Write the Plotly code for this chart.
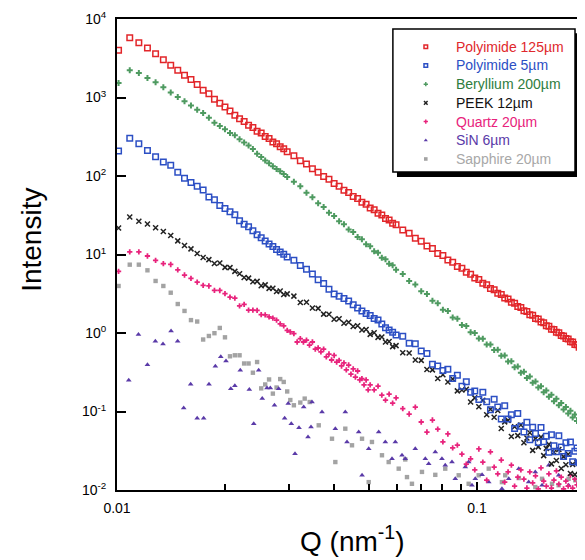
import plotly.graph_objects as go

# Q grid (nm^-1) shared by the four dense series
q = [0.0101, 0.01085, 0.0115, 0.01215, 0.0128, 0.01345, 0.0141, 0.01475, 0.0154, 0.01605,
     0.0167, 0.01735, 0.018, 0.01865, 0.0193, 0.01995, 0.0206, 0.02125, 0.0219, 0.02255,
     0.0232, 0.02385, 0.0245, 0.02515, 0.0258, 0.02645, 0.0271, 0.02775, 0.0284, 0.02905,
     0.0297,
     0.031, 0.0323, 0.0336, 0.0349, 0.0362, 0.0375, 0.0388, 0.0401, 0.0414, 0.0427,
     0.044, 0.0453, 0.0466, 0.0479, 0.0492, 0.0505, 0.0518, 0.0531, 0.0544, 0.0557,
     0.057, 0.0583, 0.0596,
     0.0622, 0.0648, 0.0674, 0.07, 0.0726, 0.0752, 0.0778, 0.0804, 0.083, 0.0856,
     0.0882, 0.0908, 0.0934, 0.096, 0.0986, 0.1012, 0.1038, 0.1064, 0.109, 0.1116,
     0.1142, 0.1168, 0.1194, 0.122, 0.1246, 0.1272, 0.1298, 0.1324, 0.135, 0.1376,
     0.1402, 0.1428, 0.1454, 0.148, 0.1506, 0.1532, 0.1558, 0.1584, 0.161, 0.1636,
     0.1662, 0.1688, 0.1714, 0.174, 0.1766, 0.1792, 0.1818, 0.1844, 0.187, 0.1896,
     0.1922, 0.1948, 0.1974, 0.2]

polyimide_125 = [3990, 5780, 4990, 4280, 3610, 3030, 2570, 2220, 1920, 1700,
                 1460, 1240, 1120, 950, 843, 757, 673, 593, 537, 495,
                 444, 415, 372, 352, 318, 300, 271, 258, 236, 223, 204,
                 181, 156, 142, 124, 112, 98.6, 91.0, 80.2, 74.3, 66.0,
                 61.5, 54.8, 51.6, 46.2, 43.6, 39.1, 37.2, 33.5, 31.9, 28.8,
                 27.6, 25.0, 24.0,
                 20.5, 18.7, 16.1, 14.8, 12.8, 11.9, 10.3, 9.68, 8.49, 7.99,
                 7.05, 6.67, 5.93, 5.62, 5.01, 4.79, 4.29, 4.12, 3.70, 3.56,
                 3.21, 3.09, 2.79, 2.71, 2.46, 2.39, 2.17, 2.11, 1.92, 1.88,
                 1.71, 1.68, 1.53, 1.51, 1.38, 1.35, 1.24, 1.22, 1.12, 1.11,
                 1.02, 1.01, 0.928, 0.919, 0.849, 0.840, 0.776, 0.769, 0.712, 0.707,
                 0.656, 0.651, 0.604, 0.600]

polyimide_5 = [208, 302, 258, 212, 176, 151, 137, 112, 93.8, 82.7,
               73.9, 66.3, 54.0, 49.8, 42.0, 38.5, 35.0, 32.0, 27.0, 24.2,
               22.5, 20.0, 17.9, 16.3, 14.9, 13.6, 12.6, 11.6, 10.8, 10.1, 9.29,
               8.46, 7.22, 6.48, 5.66, 4.76, 4.26, 3.60, 3.14, 2.94, 2.75,
               2.56, 2.29, 2.08, 1.91, 1.77, 1.67, 1.53, 1.46, 1.30, 1.17,
               1.09, 1.02, 0.943,
               0.911, 0.740, 0.732, 0.591, 0.548, 0.401, 0.380, 0.333, 0.345, 0.264,
               0.289, 0.209, 0.240, 0.176, 0.182, 0.142, 0.176, 0.133, 0.105, 0.143,
               0.114, 0.0800, 0.118, 0.0800, 0.0910, 0.0608, 0.0941, 0.0649, 0.0547, 0.0728,
               0.0436, 0.0630, 0.0524, 0.0402, 0.0624, 0.0413, 0.0484, 0.0303, 0.0504, 0.0366,
               0.0307, 0.0490, 0.0353, 0.0268, 0.0400, 0.0291, 0.0408, 0.0229, 0.0311, 0.0344,
               0.0223, 0.0298, 0.0237, 0.0320]

beryllium_200 = [1530, 2220, 2050, 1770, 1560, 1350, 1160, 1015, 895, 791,
                 699, 635, 553, 478, 434, 394, 353, 330, 293, 267,
                 245, 221, 192, 174, 158, 145, 133, 123, 115, 106, 97.4,
                 84.4, 74.0, 61.0, 53.5, 44.8, 40.2, 34.0, 31.0, 26.5, 24.3,
                 20.8, 19.3, 16.7, 15.6, 13.5, 12.7, 11.0, 10.5, 9.10, 8.72,
                 7.60, 7.30, 6.40,
                 5.65, 4.60, 4.16, 3.40, 3.13, 2.57, 2.40, 1.98, 1.90, 1.57,
                 1.52, 1.26, 1.23, 1.02, 1.00, 0.850, 0.845, 0.715, 0.712, 0.606,
                 0.612, 0.512, 0.517, 0.432, 0.438, 0.366, 0.374, 0.312, 0.322, 0.268,
                 0.279, 0.232, 0.241, 0.202, 0.210, 0.176, 0.185, 0.154, 0.164, 0.135,
                 0.145, 0.120, 0.128, 0.106, 0.114, 0.0945, 0.102, 0.0840, 0.0915, 0.0755,
                 0.0825, 0.0680, 0.0745, 0.0610]

peek_12 = [21.8, 30.0, 26.5, 24.5, 21.9, 19.6, 17.5, 14.9, 13.0, 11.8,
           10.3, 9.16, 8.6, 7.7, 7.8, 6.85, 6.8, 6.1, 5.7, 5.1,
           5.0, 4.5, 4.55, 4.0, 4.1, 3.7, 3.72, 3.38, 3.42, 3.1, 3.15,
           2.95, 2.45, 2.46, 2.08, 2.06, 1.74, 1.73, 1.50, 1.52, 1.33,
           1.37, 1.21, 1.24, 1.09, 1.11, 0.96, 1.01, 0.88, 0.89, 0.77,
           0.78, 0.67, 0.69,
           0.561, 0.555, 0.452, 0.448, 0.343, 0.339, 0.263, 0.294, 0.238, 0.259,
           0.183, 0.188, 0.192, 0.132, 0.149, 0.115, 0.139, 0.0907, 0.107, 0.0845,
           0.103, 0.0606, 0.0738, 0.0771, 0.0480, 0.0639, 0.0493, 0.0672, 0.0399, 0.0459,
           0.0537, 0.0320, 0.0451, 0.0354, 0.0472, 0.0274, 0.0339, 0.0381, 0.0215, 0.0303,
           0.0237, 0.0328, 0.0188, 0.0266, 0.0210, 0.0285, 0.0162, 0.0212, 0.0157, 0.0225,
           0.0158, 0.0204, 0.0132, 0.0184]

# Quartz: same grid at low/high Q, finer sampling in the middle
quartz_q_mid = [0.0303, 0.031, 0.03165, 0.0323, 0.03295, 0.0336, 0.03425, 0.0349, 0.03555, 0.0362,
                0.03685, 0.0375, 0.03815, 0.0388, 0.03945, 0.0401, 0.04075, 0.0414, 0.04205, 0.0427,
                0.04335, 0.044, 0.04465, 0.0453, 0.04595, 0.0466, 0.04725, 0.0479, 0.04855, 0.0492,
                0.04985, 0.0505, 0.0518, 0.0531, 0.0544, 0.0557, 0.057, 0.0583, 0.0596]
quartz_q = q[:31] + quartz_q_mid + q[54:]
quartz_20 = [6.11, 10.8, 10.8, 9.57, 8.44, 7.64, 7.46, 6.35, 5.48, 4.95,
             4.46, 4.05, 3.97, 3.50, 3.48, 3.17, 2.87, 2.79, 2.21, 2.32,
             1.95, 1.96, 1.94, 1.71, 1.70, 1.60, 1.55, 1.46, 1.31, 1.23, 1.08,
             1.03, 0.980, 0.768, 0.846, 0.768, 0.814, 0.703, 0.768, 0.625, 0.644,
             0.573, 0.625, 0.495, 0.540, 0.453, 0.517, 0.427, 0.449, 0.380, 0.415,
             0.338, 0.391, 0.300, 0.348, 0.275, 0.328, 0.252, 0.262, 0.218, 0.252,
             0.188, 0.218, 0.188, 0.211, 0.162, 0.140, 0.167, 0.128, 0.149,
             0.109, 0.0929, 0.114, 0.0735, 0.0548, 0.0779, 0.0598, 0.0409, 0.0517, 0.0343,
             0.0374, 0.0287, 0.0214, 0.0250, 0.0180, 0.0333, 0.0227, 0.0134, 0.0305, 0.0196,
             0.0160, 0.0241, 0.0126, 0.0170, 0.0208, 0.0112, 0.0146, 0.0180, 0.0138, 0.0106,
             0.0170, 0.0123, 0.0151, 0.0103, 0.0191, 0.0130, 0.0112, 0.0160, 0.0106, 0.0134,
             0.0175, 0.0119, 0.0146, 0.0103, 0.0130, 0.0112, 0.0155, 0.0106, 0.0138, 0.0116,
             0.0126, 0.0106, 0.0142, 0.0119]

sin_q = [0.01078, 0.01147, 0.01215, 0.01278, 0.01342, 0.01413, 0.01474, 0.01532, 0.01602, 0.0167,
         0.01741, 0.01801, 0.01876, 0.01942, 0.02008, 0.02071, 0.02125, 0.0220, 0.02331, 0.02398,
         0.02475, 0.02532, 0.0261, 0.02666, 0.02738, 0.02813, 0.02922, 0.0299, 0.03049, 0.03122,
         0.03203, 0.03301, 0.03393, 0.03459, 0.03481, 0.03711, 0.04041, 0.04307, 0.04354, 0.04693,
         0.04794, 0.05003, 0.05333, 0.05564, 0.05807, 0.05932, 0.0619, 0.06321, 0.06739, 0.07185,
         0.07343, 0.07659, 0.07992, 0.08162, 0.08522, 0.08703, 0.09279, 0.09482, 0.09685, 0.09892,
         0.1033, 0.1078, 0.1173, 0.1225, 0.1306, 0.1392, 0.1452, 0.1516, 0.1582, 0.1686,
         0.1797, 0.1917, 0.200]
sin_6 = [0.250, 0.957, 0.395, 0.786, 0.724, 1.06, 0.786, 0.111, 0.222, 0.0819,
         0.0819, 0.222, 0.378, 0.499, 0.440, 0.195, 0.213, 0.336, 0.190, 0.0699,
         0.336, 0.146, 0.199, 0.199, 0.120, 0.195, 0.0819, 0.126, 0.0699, 0.0290,
         0.0620, 0.114, 0.0473, 0.0635, 0.132, 0.0985, 0.0604, 0.0985, 0.0409, 0.0548,
         0.0154, 0.0336, 0.0548, 0.0409, 0.0250, 0.0409, 0.0277, 0.0250, 0.0336, 0.0250,
         0.0216, 0.0305, 0.0250, 0.0206, 0.0227, 0.0139, 0.0196, 0.0227, 0.0115, 0.0139,
         0.0156, 0.0126, 0.0104, 0.0139, 0.0187, 0.0126, 0.0170, 0.0115, 0.0206, 0.0154,
         0.0115, 0.0139, 0.0104]

sapphire_q = q[:31] + [0.0303, 0.031, 0.0323, 0.03322, 0.0343, 0.03634, 0.03956, 0.04041, 0.04307,
                       0.04496, 0.04794, 0.05003, 0.05108, 0.05446, 0.05685, 0.06061, 0.06321, 0.06391,
                       0.06597, 0.07034, 0.07659, 0.08162, 0.08896, 0.09482, 0.1011, 0.1078, 0.1173,
                       0.1198, 0.1306, 0.1452, 0.1516, 0.1616, 0.1686, 0.1797, 0.1875, 0.1917]
sapphire_20 = [3.97, 7.42, 7.42, 6.29, 4.60, 3.97, 3.26, 2.34, 1.91, 1.46,
               1.40, 0.826, 0.916, 0.994, 1.16, 0.881, 0.505, 0.520, 0.520, 0.409,
               0.409, 0.312, 0.427, 0.197, 0.221, 0.256, 0.169, 0.202, 0.259, 0.238,
               0.180, 0.140, 0.120, 0.130, 0.146, 0.132, 0.0667, 0.0450, 0.0227, 0.0604,
               0.0371, 0.0450, 0.0126, 0.0409, 0.0277, 0.0227, 0.0187, 0.0245, 0.0146, 0.0120,
               0.0170, 0.0156, 0.0187, 0.0154, 0.0120, 0.0154, 0.0187, 0.0126, 0.0154, 0.0142,
               0.0109, 0.0139, 0.0120, 0.0115, 0.0139, 0.0133, 0.0115]

y_ticks = [0.01, 0.1, 1, 10, 100, 1000, 10000]
y_ticktext = ['10<sup>-2</sup>', '10<sup>-1</sup>', '10<sup>0</sup>', '10<sup>1</sup>',
              '10<sup>2</sup>', '10<sup>3</sup>', '10<sup>4</sup>']
x_ticks = [0.01, 0.1]
x_ticktext = ['0.01', '0.1']
x_minor = [0.02, 0.03, 0.04, 0.05, 0.06, 0.07, 0.08, 0.09, 0.2]

# name, x, y, symbol, marker colour, text colour, size
series = [
    ('Polyimide 125\u00b5m', q, polyimide_125, 'square-open', '#e2262a', '#e0282c', 5.5),
    ('Polyimide 5\u00b5m', q, polyimide_5, 'square-open', '#2c4fc4', '#2c4fc4', 5.5),
    ('Beryllium 200\u00b5m', q, beryllium_200, 'cross', '#4e9a60', '#2e7d3e', 5),
    ('PEEK 12\u00b5m', q, peek_12, 'x-thin-open', '#222222', '#111111', 5),
    ('Quartz 20\u00b5m', quartz_q, quartz_20, 'cross', '#e8237c', '#e8237c', 4.4),
    ('SiN 6\u00b5m', sin_q, sin_6, 'triangle-up', '#5a3aa8', '#5a3aa8', 5),
    ('Sapphire 20\u00b5m', sapphire_q, sapphire_20, 'square', '#a3a3a3', '#a8a8a8', 4.4),
]

def marker_style(sym, col, size):
    return dict(symbol=sym, color=col, size=size,
                line=dict(width=1.5 if 'open' in sym else 0, color=col))

fig = go.Figure()
for name, xs, ys, sym, col, tcol, size in reversed(series):
    fig.add_trace(go.Scatter(x=xs, y=ys, mode='markers', name=name,
                             cliponaxis=False, showlegend=False,
                             marker=marker_style(sym, col, size)))

# hand-made legend (markers on an overlay axis pair running 0..1 over the plot)
leg_x_marker = 0.657
leg_x_text = 0.717
leg_top = 0.941
leg_step = 0.0397
for i, (name, xs, ys, sym, col, tcol, size) in enumerate(series):
    yy = leg_top - i * leg_step
    fig.add_trace(go.Scatter(x=[leg_x_marker], y=[yy], xaxis='x2', yaxis='y2',
                             mode='markers', showlegend=False, cliponaxis=False,
                             hoverinfo='skip',
                             marker=marker_style(sym, col, 3.6)))
    fig.add_annotation(text=name, xref='paper', yref='paper', x=leg_x_text, y=yy,
                       xanchor='left', yanchor='middle', showarrow=False,
                       font=dict(size=14, color=tcol))

fig.add_annotation(text='Intensity', xref='paper', yref='paper', x=-0.181, y=0.531,
                   xanchor='center', yanchor='middle',
                   textangle=-90, showarrow=False, font=dict(size=28))
fig.add_annotation(text='Q (nm<sup>-1</sup>)', xref='paper', yref='paper', x=0.5, y=-0.105,
                   xanchor='center', yanchor='middle',
                   showarrow=False, font=dict(size=28))

fig.update_layout(
    width=585, height=560,
    margin=dict(l=109, r=6, t=11, b=78),
    paper_bgcolor='white', plot_bgcolor='white',
    font=dict(family='Arial, Liberation Sans, sans-serif', size=14, color='black'),
    showlegend=False,
    xaxis=dict(
        type='log', range=[-2, -0.6944], automargin=False,
        tickmode='array', tickvals=x_ticks, ticktext=x_ticktext,
        ticks='inside', ticklen=8, tickwidth=1.5, tickcolor='black',
        ticklabelstandoff=4, ticklabeloverflow='allow',
        minor=dict(tickmode='array', tickvals=x_minor, ticks='inside', ticklen=6,
                   tickwidth=1.5, tickcolor='black', showgrid=False),
        showline=True, linecolor='black', linewidth=2, mirror=True,
        showgrid=False, zeroline=False,
    ),
    yaxis=dict(
        type='log', range=[-2, 4], automargin=False,
        tickmode='array', tickvals=y_ticks, ticktext=y_ticktext,
        ticks='inside', ticklen=9, tickwidth=2, tickcolor='black',
        ticklabelstandoff=6, ticklabeloverflow='allow',
        showline=True, linecolor='black', linewidth=2, mirror=False,
        showgrid=False, zeroline=False,
    ),
    xaxis2=dict(overlaying='x', range=[0, 1], visible=False, anchor='y2'),
    yaxis2=dict(overlaying='y', range=[0, 1], visible=False, anchor='x2'),
    shapes=[
        dict(type='rect', xref='paper', yref='paper', x0=0.5957, x1=0.985, y0=0.6645, y1=0.970,
             fillcolor='black', line=dict(width=0), layer='below'),
        dict(type='rect', xref='paper', yref='paper', x0=0.587, x1=0.9745, y0=0.6752, y1=0.9788,
             fillcolor='white', line=dict(color='black', width=1.5), layer='below'),
    ],
)

fig.write_html("out.html")
